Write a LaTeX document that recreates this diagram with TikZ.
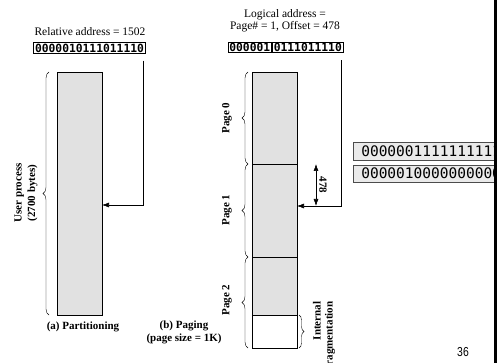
\documentclass[tikz,border=0pt]{standalone}
\usepackage{fontspec}
\setmainfont{Liberation Serif}
\newfontfamily\bitfont{DejaVu Sans Mono}
\newfontfamily\numfont{Liberation Sans}
\usetikzlibrary{arrows.meta,positioning,decorations.pathreplacing}
\definecolor{memgray}{HTML}{E1E1E1}
\definecolor{reggray}{HTML}{EAEAEA}

\begin{document}
\begin{tikzpicture}[x=1pt,y=-1pt,>={Latex[length=7pt,width=5pt]},semithick,
    title/.style={font=\fontsize{11.5}{12.5}\selectfont},
    lbl/.style={font=\bfseries\fontsize{11}{13.5}\selectfont},
    bits/.style={draw,inner xsep=1.5pt,inner ysep=0pt,minimum height=10.5pt,
                 font=\bitfont\bfseries\fontsize{11.3}{12}\selectfont},
    mem/.style={draw,fill=memgray,minimum width=45pt,inner sep=0pt,outer sep=0pt},
    brc/.style={decorate,decoration={brace,amplitude=6pt},thin},
    regbox/.style={draw=black!70,fill=reggray,inner xsep=8pt,inner ysep=0pt,
                   minimum height=18pt,font=\bitfont\fontsize{14.5}{16}\selectfont}]

  \useasboundingbox (0,0) rectangle (497,363);
  \fill[white] (0,0) rectangle (497,363);
  \clip (0,0) rectangle (497,363);

  % addresses
  \node[title]              (relTitle) at (90,32)   {Relative address = 1502};
  \node[bits]               (relBits)  at (89.5,48) {0000010111011110};
  \node[title,align=center] (logTitle) at (285,21)  {Logical address =\\Page\# = 1, Offset = 478};
  \node[bits,anchor=east]   (pageBits) at (272,47.5) {000001};
  \node[bits,anchor=west]   (offBits)  at (272,47.5) {0111011110};

  % (a) partitioning
  \node[mem,minimum height=243pt] (proc) at (79.5,193.5) {};
  \coordinate (procHit) at ([yshift=-11.5pt]proc.east);
  \draw[->] ([shift={(-2.5,7)}]relBits.south east) |- (procHit);
  \draw[brc] ([xshift=-8pt]proc.south west) -- ([xshift=-8pt]proc.north west);
  \node[lbl,rotate=90,align=center] (procLbl) at (26,193) {User process\\(2700 bytes)};
  \node[lbl] (partCap) at (83,327) {(a) Partitioning};

  % (b) paging
  \node[mem,minimum height=92pt]                    (page0) at (274.5,118) {};
  \node[mem,minimum height=93pt,below=0pt of page0] (page1) {};
  \node[mem,minimum height=58pt,below=0pt of page1] (page2) {};
  \node[mem,fill=white,minimum height=33pt,below=0pt of page2] (frag) {};

  \draw[brc] ([xshift=-4pt]page0.south west) -- ([xshift=-4pt]page0.north west);
  \draw[brc] ([xshift=-4pt]page1.south west) -- ([xshift=-4pt]page1.north west);
  \draw[brc] ([xshift=-4pt]frag.south west)  -- ([xshift=-4pt]page2.north west);
  \node[lbl,rotate=90] (pg0Lbl) at (227,118) {Page 0};
  \node[lbl,rotate=90] (pg1Lbl) at (227,210) {Page 1};
  \node[lbl,rotate=90] (pg2Lbl) at (227,300) {Page 2};

  \coordinate (offTop) at ([xshift=19pt]page1.north east);
  \coordinate (offHit) at ([yshift=-42pt]page1.north east);
  \draw[<->] (offTop) -- (offTop |- offHit);
  \node[lbl,rotate=-90] (offLbl) at (323,185) {478};
  \draw[->] ([shift={(-2,7)}]offBits.south east) |- (offHit);

  \draw[brc,decoration={brace,amplitude=5pt}] ([xshift=2pt]frag.north east) -- ([xshift=2pt]frag.south east);
  \node[lbl,rotate=90,anchor=east,align=right,font=\bfseries\fontsize{11}{12}\selectfont]
       (fragLbl) at (324,298) {Internal\\fragmentation};
  \node[lbl,align=center,font=\bfseries\fontsize{11}{13}\selectfont] (pagCap) at (184,332) {(b) Paging\\(page size = 1K)};

  % page boundary values
  \node[regbox,anchor=west]                     (hiBits) at (353,151)   {0000001111111111};
  \node[regbox,anchor=west,minimum height=17pt] (loBits) at (353,173.5) {0000010000000000};

  \fill (494,0) rectangle (497,363);
  \node[font=\numfont\fontsize{13}{14}\selectfont,xscale=0.8] (slideNo) at (463,352) {36};
\end{tikzpicture}
\end{document}
